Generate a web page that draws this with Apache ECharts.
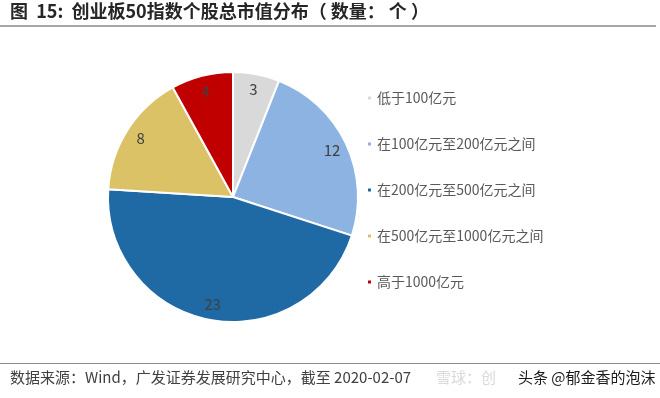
<!DOCTYPE html>
<html style="height: 100%">
<head>
    <meta charset="utf-8">
    <title>创业板50指数个股总市值分布</title>
    <script src="https://cdn.jsdelivr.net/npm/echarts@6/dist/echarts.min.js"></script>
</head>
<body style="margin: 0; height: 100%; background: #fff">
    <div id="main" style="width: 660px; height: 398px"></div>
    <script>
        const chart = echarts.init(document.getElementById('main'));

        // 分组与个股数量
        const categories = ['低于100亿元', '在100亿元至200亿元之间', '在200亿元至500亿元之间', '在500亿元至1000亿元之间', '高于1000亿元'];
        const counts = [3, 12, 23, 8, 4];
        const colors = ['#d9d9d9', '#8db3e2', '#1f6aa5', '#dcc267', '#c00000'];

        const pieData = categories.map((name, i) => ({
            name,
            value: counts[i],
            itemStyle: { color: colors[i] }
        }));

        const font = '"Noto Sans CJK SC", "Noto Sans", sans-serif';

        chart.setOption({
            textStyle: { fontFamily: font },
            legend: {
                orient: 'vertical',
                left: 361,
                top: 86,
                itemWidth: 5,
                itemHeight: 5,
                itemGap: 32,
                icon: 'rect',
                data: categories,
                textStyle: { color: '#595959', fontSize: 14, lineHeight: 14, fontFamily: font }
            },
            graphic: [
                {
                    type: 'text', left: 10, top: 2,
                    style: { text: '图  15:  创业板50指数个股总市值分布（ 数量： 个 ）', font: 'bold 18px ' + font, fill: '#262626' }
                },
                {
                    type: 'rect', shape: { x: 0, y: 25, width: 656, height: 2 },
                    style: { fill: '#a6a6a6' }
                },
                {
                    type: 'rect', shape: { x: 0, y: 363, width: 660, height: 1 },
                    style: { fill: '#8c8c8c' }
                },
                {
                    type: 'text', left: 10, top: 370,
                    style: { text: '数据来源：Wind，广发证券发展研究中心，截至 2020-02-07', font: '15px ' + font, fill: '#404040' }
                },
                {
                    type: 'text', left: 436, top: 370,
                    style: { text: '雪球：创', font: '15px ' + font, fill: 'rgba(160,160,160,0.4)' }
                },
                {
                    type: 'text', left: 518, top: 370,
                    style: { text: '头条 @郁金香的泡沫', font: '15px ' + font, fill: '#1a1a1a' }
                }
            ],
            series: [
                {
                    type: 'pie',
                    center: [233, 197],
                    radius: [0, 125],
                    startAngle: 90,
                    clockwise: true,
                    silent: true,
                    label: { show: false },
                    labelLine: { show: false },
                    itemStyle: { borderColor: '#fff', borderWidth: 2 },
                    data: pieData
                },
                {
                    type: 'pie',
                    center: [233, 197],
                    radius: [88, 125],
                    startAngle: 90,
                    clockwise: true,
                    silent: true,
                    legendHoverLink: false,
                    itemStyle: { color: 'transparent' },
                    label: {
                        show: true,
                        position: 'inside',
                        color: '#404040',
                        fontSize: 15,
                        fontFamily: font,
                        formatter: '{c}'
                    },
                    labelLine: { show: false },
                    data: categories.map((name, i) => ({ name, value: counts[i], itemStyle: { color: 'transparent' } }))
                }
            ]
        });
    </script>
</body>
</html>
